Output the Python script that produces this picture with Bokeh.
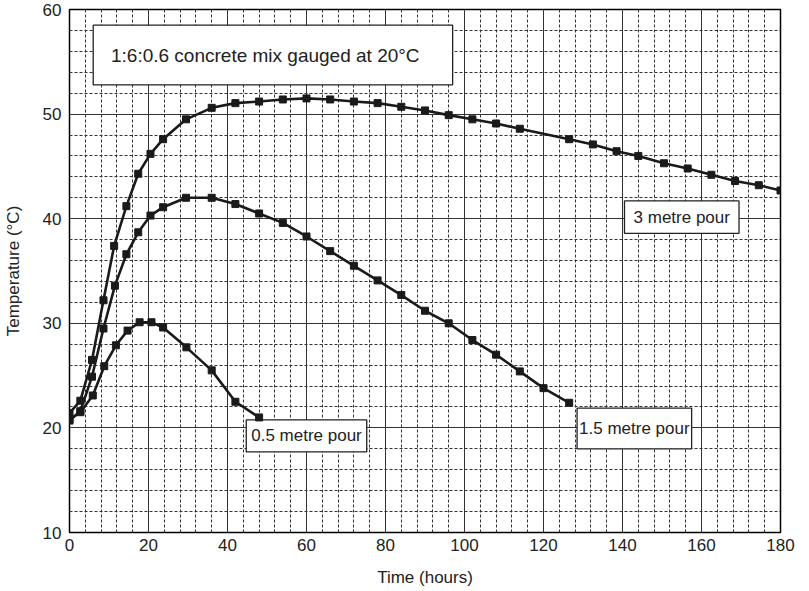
from bokeh.plotting import figure
from bokeh.embed import file_html
from bokeh.resources import INLINE
from bokeh.models import FixedTicker, Range1d
from bokeh.core.properties import value

# ---- data ----
hours_3m = [0, 2.75, 5.7, 8.6, 11.3, 14.4, 17.4, 20.5, 23.7, 29.5, 36, 42, 48, 54, 60, 66,
            72, 78, 84, 90, 96, 102, 108, 114, 126.5, 132.5, 138.5, 144, 150.5, 156.5,
            162.5, 168.5, 174.5, 180]
temp_3m = [21.4, 22.6, 26.5, 32.2, 37.4, 41.2, 44.3, 46.2, 47.6, 49.5, 50.6, 51.05, 51.2,
           51.4, 51.5, 51.4, 51.2, 51.05, 50.7, 50.35, 49.9, 49.5, 49.1, 48.6, 47.6, 47.1,
           46.45, 46.0, 45.3, 44.8, 44.2, 43.6, 43.2, 42.7]

hours_15m = [0, 2.75, 5.7, 8.6, 11.5, 14.4, 17.4, 20.5, 23.7, 29.5, 36, 42, 48, 54, 60, 66,
             72, 78, 84, 90, 96, 102, 108, 114, 120, 126.5]
temp_15m = [20.7, 21.6, 24.9, 29.5, 33.6, 36.6, 38.7, 40.3, 41.1, 42.0, 42.0, 41.4, 40.5,
            39.6, 38.3, 36.9, 35.5, 34.1, 32.7, 31.2, 30.0, 28.4, 27.0, 25.4, 23.8, 22.4]

hours_05m = [0, 2.75, 5.9, 8.8, 11.75, 14.7, 17.75, 20.75, 23.7, 29.6, 36, 42, 48]
temp_05m = [20.8, 21.5, 23.1, 25.9, 27.9, 29.3, 30.1, 30.1, 29.6, 27.7, 25.5, 22.5, 21.0]

x_ticks = [0, 20, 40, 60, 80, 100, 120, 140, 160, 180]
y_ticks = [10, 20, 30, 40, 50, 60]

title_text = "1:6:0.6 concrete mix gauged at 20°C"
label_3m = "3 metre pour"
label_15m = "1.5 metre pour"
label_05m = "0.5 metre pour"

FONT = "Liberation Sans"

p = figure(width=795, height=589, output_backend="svg", toolbar_location=None,
           x_range=Range1d(0, 180), y_range=Range1d(10, 60),
           min_border_left=60, min_border_right=15, min_border_top=9, min_border_bottom=54,
           margin=(0, 0, 0, 0))

p.outline_line_color = "black"
p.outline_line_width = 1.5
p.background_fill_color = "white"
p.border_fill_color = "white"

p.xaxis.ticker = FixedTicker(ticks=x_ticks, minor_ticks=list(range(0, 181, 4)))
p.yaxis.ticker = FixedTicker(ticks=y_ticks, minor_ticks=list(range(10, 61, 2)))

for ax in (p.xaxis[0], p.yaxis[0]):
    ax.axis_line_color = None
    ax.major_tick_out = 0
    ax.major_tick_in = 0
    ax.minor_tick_out = 0
    ax.minor_tick_in = 0
    ax.major_label_text_font = FONT
    ax.major_label_text_font_size = "17px"
    ax.major_label_text_color = "#222222"
    ax.axis_label_text_font = FONT
    ax.axis_label_text_font_size = "17px"
    ax.axis_label_text_font_style = "normal"
    ax.axis_label_text_color = "#222222"

p.xaxis.axis_label = "Time (hours)"
p.yaxis.axis_label = "Temperature (°C)"
p.xaxis.major_label_standoff = 6
p.xaxis.axis_label_standoff = 14
p.yaxis.major_label_standoff = 8
p.yaxis.axis_label_standoff = 17

for g in (p.xgrid[0], p.ygrid[0]):
    g.grid_line_color = "#333333"
    g.grid_line_width = 1
    g.grid_line_alpha = 1.0
    g.minor_grid_line_color = "#333333"
    g.minor_grid_line_width = 1
    g.minor_grid_line_dash = "3 2"
    g.minor_grid_line_alpha = 1.0

# ---- label boxes (white, bordered, drawn over grid) ----
box_left = [6, 140.5, 128.5, 44.75]
box_right = [97, 169.5, 157.5, 75.25]
box_top = [58.5, 41.7, 21.9, 20.76]
box_bottom = [52.8, 38.6, 18.0, 17.7]
p.quad(left=box_left, right=box_right, top=box_top, bottom=box_bottom,
       fill_color="white", line_color="#222222", line_width=1.3)

p.text(x=[10.5], y=[55.65], text=[title_text], text_font=value(FONT),
       text_font_size="19px", text_align="left", text_baseline="middle", text_color="#222222")
p.text(x=[155, 143, 60], y=[40.15, 19.95, 19.23], text=[label_3m, label_15m, label_05m],
       text_font=value(FONT), text_font_size="17px", text_align="center",
       text_baseline="middle", text_color="#222222")

# ---- series ----
for hx, ty in ((hours_3m, temp_3m), (hours_15m, temp_15m), (hours_05m, temp_05m)):
    p.line(hx, ty, line_color="#1a1a1a", line_width=2.6)
    p.scatter(hx, ty, marker="square", size=7, fill_color="#1a1a1a", line_color="#1a1a1a")

open("out.html", "w").write(file_html(p, INLINE))
